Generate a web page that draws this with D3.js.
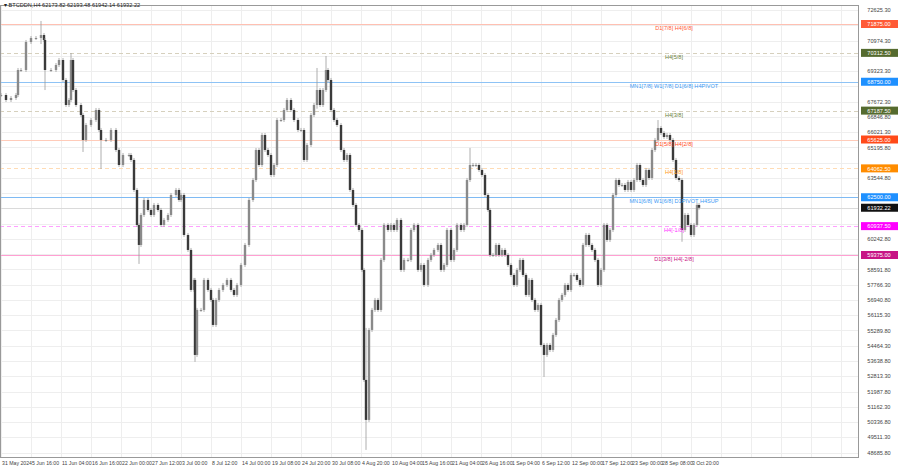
<!DOCTYPE html>
<html><head><meta charset="utf-8">
<script src="https://cdn.jsdelivr.net/npm/d3@7"></script>
<style>body{margin:0;background:#fff}text{font-family:"Liberation Sans",Arial,sans-serif}</style>
</head><body><svg width="900" height="468"></svg>
<script>
// [bar index (H4), close]
var bars = [[0,68033],[5,67763],[10,67871],[15,68033],[17,69386],[20,69386],[25,70901],[30,71117],[35,71117],[40,71279],[43,71009],[44,69386],[50,69386],[55,69656],[58,69927],[62,68845],[65,67492],[68,67763],[70,69927],[72,68304],[75,67492],[80,66951],[82,65599],[85,66410],[90,66681],[95,67222],[98,66140],[100,65599],[105,65599],[110,66140],[115,65058],[118,64246],[122,64787],[128,64787],[130,64517],[133,62894],[136,61000],[138,59918],[140,61541],[143,62353],[147,61812],[150,61541],[153,62082],[157,61812],[160,61000],[163,61271],[167,61541],[170,62623],[175,62894],[178,62353],[180,62623],[183,60459],[187,59648],[190,57484],[193,58025],[194,53967],[196,56402],[200,56402],[203,58025],[207,57484],[210,56943],[212,55590],[215,56943],[218,57484],[222,57754],[226,58025],[230,57484],[233,57213],[236,57754],[240,58836],[244,59918],[248,62353],[252,63435],[255,65058],[258,64246],[261,65869],[264,65058],[267,64787],[270,63705],[273,64246],[276,66681],[280,66681],[283,67222],[286,67763],[290,67222],[293,66681],[297,66140],[300,66140],[303,64517],[306,65328],[310,66951],[313,67492],[316,68304],[319,67492],[322,68304],[325,69386],[327,68845],[330,67222],[333,66681],[336,66410],[340,65058],[343,64517],[346,64787],[349,62894],[352,62082],[355,61000],[358,60730],[361,58566],[363,52615],[365,50451],[368,55320],[371,56402],[374,56943],[377,56402],[380,59107],[383,61000],[387,60730],[390,61000],[393,60730],[396,61271],[400,58566],[403,59107],[407,59107],[410,60730],[413,61000],[417,58566],[420,58836],[423,57754],[427,59107],[430,59377],[433,59648],[437,59918],[440,58566],[443,58836],[446,60730],[450,59107],[453,59648],[456,61000],[460,60730],[463,61000],[466,63435],[469,64246],[472,64246],[475,64246],[478,63976],[481,63705],[484,62623],[487,61812],[489,59377],[492,59377],[495,59918],[498,59377],[501,59648],[504,59377],[507,58836],[510,58295],[513,57754],[516,58566],[519,59107],[522,58295],[525,57213],[528,58025],[531,56943],[534,56402],[537,56672],[540,54508],[543,53967],[546,54508],[549,54238],[552,55049],[555,55861],[558,56943],[561,57213],[564,57754],[567,57484],[570,58295],[573,58295],[576,58025],[579,57754],[582,59918],[585,60459],[588,59918],[591,59648],[594,59107],[597,57754],[600,58566],[603,61000],[606,60189],[609,60730],[612,62623],[615,63435],[618,63164],[621,63164],[624,62894],[627,63327],[630,62894],[633,63435],[636,64246],[639,63435],[642,63164],[645,63976],[648,63543],[651,65058],[654,65599],[657,66248],[660,65978],[663,65761],[666,65869],[669,65599],[672,64517],[675,63543],[678,63435],[681,60730],[684,61541],[687,61000],[690,60459],[693,61000],[696,62082],[698,61932]];
// notable wicks [bar, high, low]
var wicks = [[40,71930,70900],[44,71009,68410],[70,70197,69000],[82,66400,65058],[100,66100,64138],[138,61000,59000],[194,58025,53700],[223,59377,57700],[316,69386,67400],[325,70035,68900],[365,55320,48937],[469,65060,63500],[543,54500,52885],[657,66570,65900],[681,63435,60200]];
var levels = [
  {p:71875, name:"D1[7/8] H4[6/8]", box:"#ff5a36", line:"#ffc0b2", text:"#ff5a36", dash:null},
  {p:70312.5, name:"H4[5/8]", box:"#556b2f", line:"#d6d0bd", text:"#6b7f3a", dash:"4,3"},
  {p:68750, name:"MN1[7/8] W1[7/8] D1[6/8] H4PIVOT", box:"#1e90ff", line:"#8ec3f5", text:"#3d9bf5", dash:null},
  {p:67187.5, name:"H4[3/8]", box:"#556b2f", line:"#d6d0bd", text:"#6b7f3a", dash:"4,3"},
  {p:65625, name:"D1[5/8] H4[2/8]", box:"#ff4a1a", line:"#ffcbb9", text:"#ff4a1a", dash:null},
  {p:64062.5, name:"H4[1/8]", box:"#ff8c00", line:"#ffdcb5", text:"#ff9a20", dash:"4,3"},
  {p:62500, name:"MN1[6/8] W1[6/8] D1PIVOT H4SUP", box:"#1e90ff", line:"#7fbaf3", text:"#3d9bf5", dash:null},
  {p:60937.5, name:"H4[-1/8]", box:"#ff00ff", line:"#ffa0ff", text:"#ff33ff", dash:"4,3"},
  {p:59375, name:"D1[3/8] H4[-2/8]", box:"#c71585", line:"#ff9fd2", text:"#c71585", dash:null}
];
var lastPrice = 61932.22;
var timeLabels = ["31 May 2024","5 Jun 16:00","11 Jun 04:00","16 Jun 16:00","22 Jun 00:00","27 Jun 12:00","3 Jul 00:00","8 Jul 12:00","14 Jul 00:00","19 Jul 08:00","24 Jul 20:00","30 Jul 08:00","4 Aug 20:00","10 Aug 04:00","15 Aug 16:00","21 Aug 04:00","26 Aug 16:00","1 Sep 04:00","6 Sep 12:00","12 Sep 00:00","17 Sep 12:00","23 Sep 00:00","28 Sep 08:00","3 Oct 20:00"];
var labelStep = 30;
var priceTicks = d3.range(0, 30).map(function(i) { return 48685.8 + i * 825.5; });

var W = 858, plotTop = 5, plotBottom = 457;
var svg = d3.select('svg');
var x = d3.scaleLinear().domain([0, 698]).range([1, 699]);
var y = d3.scaleLinear().domain([71875, 59375]).range([24, 255]);

// grid
var g = svg.append('g');
var visTicks = priceTicks.filter(function(p){ return y(p) > plotTop + 3 && y(p) < plotBottom; });
g.selectAll('.hg').data(visTicks)
  .enter().append('line')
  .attr('x1', 0).attr('x2', W).attr('y1', function(d){ return Math.round(y(d)) + 0.5; })
  .attr('y2', function(d){ return Math.round(y(d)) + 0.5; })
  .attr('stroke', '#eeeeee');
g.selectAll('.vg').data(d3.range(0, 29))
  .enter().append('line')
  .attr('y1', plotTop).attr('y2', plotBottom)
  .attr('x1', function(d){ return Math.round(x(d * labelStep)) + 0.5; })
  .attr('x2', function(d){ return Math.round(x(d * labelStep)) + 0.5; })
  .attr('stroke', '#eeeeee');

// levels
levels.forEach(function(l) {
  var yy = Math.round(y(l.p)) + 0.5;
  svg.append('line').attr('x1', 0).attr('x2', W).attr('y1', yy).attr('y2', yy)
    .attr('stroke', l.line).attr('stroke-width', 1).attr('stroke-dasharray', l.dash);
});
var ly = Math.round(y(lastPrice)) + 0.5;
svg.append('line').attr('x1', 0).attr('x2', W).attr('y1', ly).attr('y2', ly).attr('stroke', '#dadada');

// candles
var cg = svg.append('g');
bars.forEach(function(b, i) {
  var open = i ? bars[i - 1][1] : b[1], close = b[1];
  var hi = Math.max(open, close), lo = Math.min(open, close);
  wicks.forEach(function(w) { if (w[0] === b[0]) { hi = Math.max(hi, w[1]); lo = Math.min(lo, w[2]); } });
  var cx = x(b[0]);
  cg.append('line').attr('x1', cx).attr('x2', cx)
    .attr('y1', y(hi) - 2).attr('y2', y(lo) + 2)
    .attr('stroke', '#999').attr('stroke-width', 0.8);
  cg.append('rect')
    .attr('x', cx - 1.2).attr('width', 2.4)
    .attr('y', y(Math.max(open, close)))
    .attr('height', Math.max(1, y(Math.min(open, close)) - y(Math.max(open, close))))
    .attr('fill', close >= open ? '#8a8a8a' : '#3a3a3a');
});

// level labels
levels.forEach(function(l) {
  svg.append('text').attr('x', 674).attr('y', y(l.p) + 6)
    .attr('text-anchor', 'middle').attr('font-size', 5.6).attr('fill', l.text).text(l.name);
});

// frame
svg.append('rect').attr('x', 0.5).attr('y', plotTop + 0.5).attr('width', W).attr('height', plotBottom - plotTop)
  .attr('fill', 'none').attr('stroke', '#999');

// price axis
var hidden = levels.map(function(l){ return l.p; }).concat([lastPrice]);
svg.selectAll('.pt').data(visTicks.filter(function(p){
    return hidden.every(function(h){ return Math.abs(y(h) - y(p)) > 6; });
  }))
  .enter().append('text')
  .attr('x', 879).attr('y', function(d){ return y(d) + 2.2; })
  .attr('text-anchor', 'middle').attr('font-size', 5.6).attr('fill', '#444')
  .text(function(d){ return d.toFixed(2); });
levels.concat([{p:lastPrice, box:'#111'}]).forEach(function(l) {
  var yy = y(l.p);
  svg.append('rect').attr('x', 861).attr('y', yy - 4).attr('width', 37).attr('height', 8).attr('fill', l.box);
  svg.append('text').attr('x', 879).attr('y', yy + 2.2).attr('text-anchor', 'middle')
    .attr('font-size', 5.6).attr('fill', '#fff').text(l.p.toFixed(2));
});

// time axis
svg.selectAll('.tl').data(timeLabels).enter().append('text')
  .attr('x', function(d, i){ return x(i * labelStep) + 1; }).attr('y', 465)
  .attr('font-size', 5.2).attr('fill', '#444').text(function(d){ return d; });

// header
svg.append('text').attr('x', 4).attr('y', 7).attr('font-size', 5.6).attr('fill', '#222')
  .text('\u25BE BTCDDN,H4  62173.82 62193.48 61942.14 61932.22');
</script></body></html>
